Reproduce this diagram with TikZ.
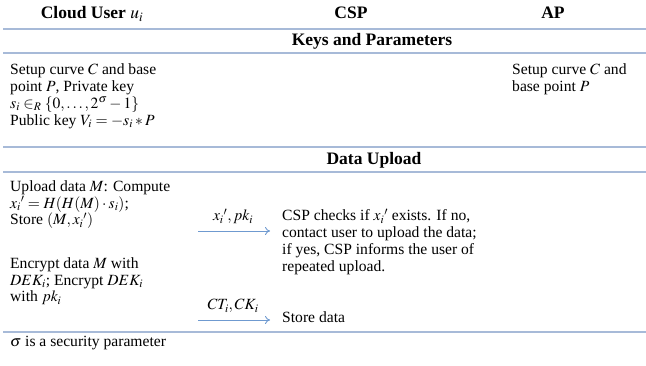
\documentclass[tikz,border=0pt]{standalone}
\usepackage{mathptmx}
\usepackage{fontspec}
\setmainfont{Liberation Serif}
\usetikzlibrary{arrows.meta}
\definecolor{rulecol}{HTML}{A7BAD8}
\definecolor{arrowcol}{HTML}{6F9AD0}
\tikzset{
  body/.style={font=\fontsize{15.6}{16.8}\selectfont, align=left, inner sep=0pt, anchor=base west},
  head/.style={font=\fontsize{17.5}{19}\selectfont\bfseries, inner sep=0pt, anchor=base},
  rule/.style={rulecol, line width=1.8pt},
  msg/.style={arrowcol, line width=0.9pt, -{To[length=5pt,width=8pt]}},
  msglabel/.style={font=\fontsize{15.6}{16.8}\selectfont, text=black, inner sep=0pt, anchor=base}
}
\begin{document}
\begin{tikzpicture}[x=1pt, y=-1pt]
\useasboundingbox (0,0) rectangle (646,366);

% column headers
\node[head] (hu) at (92,19) {Cloud User $u_i$};
\node[head] (hc) at (351,19) {CSP};
\node[head] (ha) at (553,19) {AP};

% horizontal rules
\draw[rule] (3,29) -- (646,29);
\draw[rule] (3,53) -- (646,53);
\draw[rule] (3,147) -- (646,147);
\draw[rule] (3,172) -- (646,172);
\draw[rule] (3,332) -- (646,332);

% section titles (multi-line nodes are placed by their last baseline)
\node[head] (keys) at (372,46) {Keys and Parameters};
\node[head] (upl) at (374,165) {Data Upload};

% keys and parameters
\node[body] (ukeys) at (10,125.4) {Setup curve $C$ and base\\
point $P$, Private key\\
$s_i \in_R \{0,\dots,2^\sigma-1\}$\\
Public key $V_i=-s_i * P$};
\node[body] (akeys) at (512,91.8) {Setup curve $C$ and\\
base point $P$};

% data upload
\node[body] (ucomp) at (10,225) {Upload data $M$: Compute\\
$x_i{}'=H(H(M)\cdot s_i)$;\\
Store $(M, x_i{}')$};
\node[body] (cchk) at (282,271.4) {CSP checks if $x_i{}'$ exists. If no,\\
contact user to upload the data;\\
if yes, CSP informs the user of\\
repeated upload.};
\node[body] (uenc) at (10,302) {Encrypt data $M$ with\\
$DEK_i$; Encrypt $DEK_i$\\
with $pk_i$};
\node[body] (cstore) at (282,323) {Store data};

% messages
\coordinate (m1s) at (198,231);
\coordinate (m1e) at (270,231);
\draw[msg] (m1s) -- (m1e);
\node[msglabel] (m1l) at (233,221) {$x_i{}', pk_i$};
\coordinate (m2s) at (198,320);
\coordinate (m2e) at (270,320);
\draw[msg] (m2s) -- (m2e);
\node[msglabel] (m2l) at (233,310) {$CT_i, CK_i$};

% footnote
\node[body] (note) at (10,347) {$\sigma$ is a security parameter};
\end{tikzpicture}
\end{document}
